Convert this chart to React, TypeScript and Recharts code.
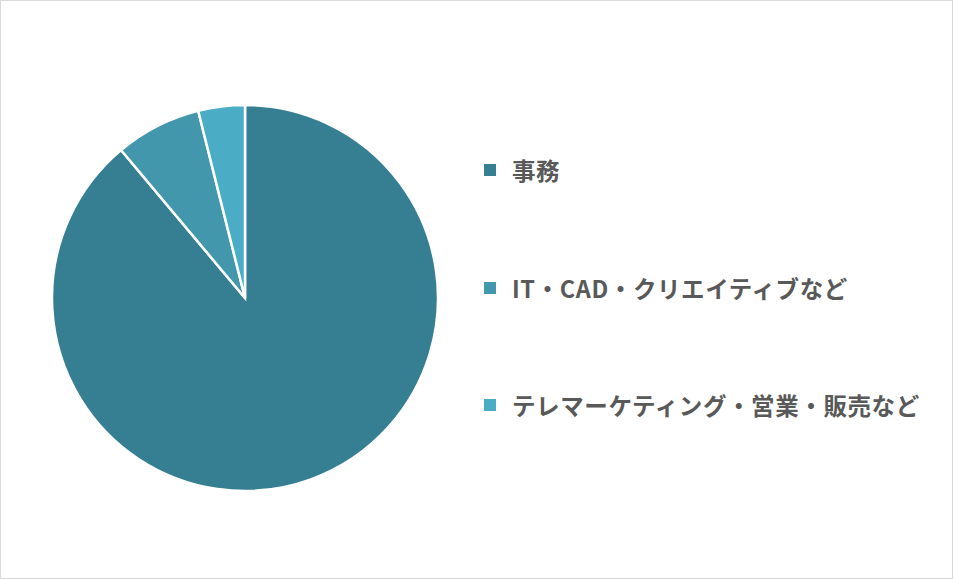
import React from "react";
import { PieChart, Pie, Cell } from "recharts";

const categories = ["事務", "IT・CAD・クリエイティブなど", "テレマーケティング・営業・販売など"];
const shares = [88.9, 7.2, 3.9];
const colors = ["#367F93", "#4297AD", "#4BACC6"];

const data = categories.map((name, i) => ({ name, value: shares[i] }));

function LegendBox() {
  return (
    <div
      style={{
        position: "absolute",
        left: 483,
        top: 157,
        display: "flex",
        flexDirection: "column",
        gap: 93.5,
      }}
    >
      {categories.map((name, i) => (
        <div key={name} style={{ display: "flex", alignItems: "center", height: 24 }}>
          <span style={{ width: 12, height: 12, background: colors[i], marginRight: 16, flexShrink: 0 }} />
          <span
            style={{
              fontSize: 23.5,
              fontWeight: 700,
              color: "#595959",
              whiteSpace: "nowrap",
              lineHeight: "24px",
              letterSpacing: 0.6,
            }}
          >
            {name}
          </span>
        </div>
      ))}
    </div>
  );
}

export default function App() {
  return (
    <div
      style={{
        position: "absolute",
        top: 0,
        left: 0,
        width: 951,
        height: 577,
        border: "1px solid #d9d9d9",
        background: "#fff",
        fontFamily: "'Noto Sans CJK JP', 'Noto Sans', sans-serif",
      }}
    >
      <PieChart width={951} height={577} margin={{ top: 0, right: 0, bottom: 0, left: 0 }}>
        <Pie
          data={data}
          dataKey="value"
          nameKey="name"
          cx={244}
          cy={297}
          outerRadius={193}
          startAngle={90}
          endAngle={-270}
          stroke="#fff"
          strokeWidth={2.5}
          isAnimationActive={false}
        >
          {data.map((d, i) => (
            <Cell key={d.name} fill={colors[i]} />
          ))}
        </Pie>
      </PieChart>
      <LegendBox />
    </div>
  );
}
